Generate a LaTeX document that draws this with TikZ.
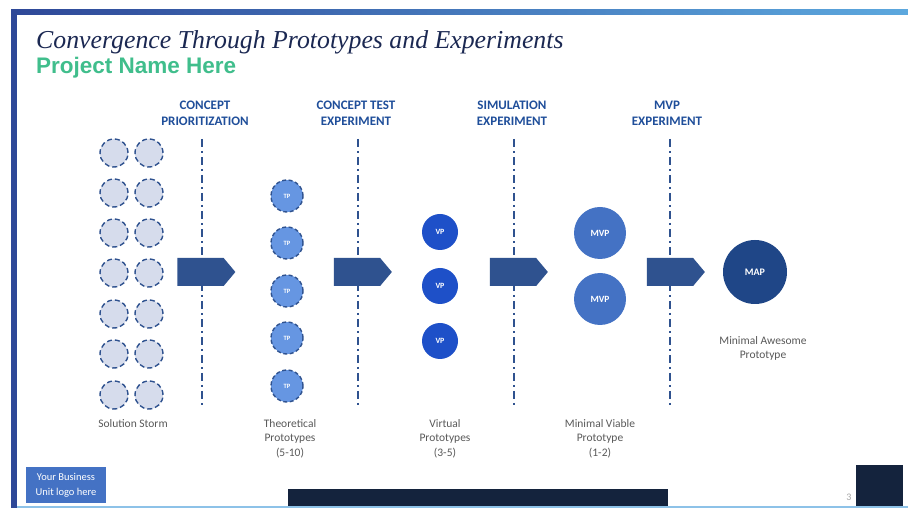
\documentclass[tikz,border=0pt]{standalone}
\usepackage{fontspec}
\setmainfont{Carlito}
\newfontfamily\titlefont{Liberation Serif}
\newfontfamily\namefont{Liberation Sans}
\usetikzlibrary{shapes.symbols}
\definecolor{titlenavy}{RGB}{27,40,82}
\definecolor{namegreen}{RGB}{64,190,140}
\definecolor{headblue}{RGB}{31,78,154}
\definecolor{stageblue}{RGB}{47,82,143}
\definecolor{stormfill}{RGB}{214,220,236}
\definecolor{tpfill}{RGB}{102,150,226}
\definecolor{vpfill}{RGB}{30,80,200}
\definecolor{mvpfill}{RGB}{68,114,196}
\definecolor{mapfill}{RGB}{31,70,135}
\definecolor{capgray}{RGB}{89,89,89}
\definecolor{barleft}{RGB}{46,72,152}
\definecolor{barright}{RGB}{92,168,222}
\definecolor{footdark}{RGB}{20,35,61}
\begin{document}
\begin{tikzpicture}[x=1pt,y=-1pt,
    every node/.append style={inner sep=0pt},
    stormdot/.style={circle,minimum size=28pt,fill=stormfill,draw=stageblue,line width=1.4pt,dash pattern=on 5pt off 3pt},
    tpdot/.style={circle,minimum size=32pt,fill=tpfill,draw=stageblue,line width=1.4pt,dash pattern=on 4pt off 2.5pt,text=white,font=\fontsize{6.5}{6.5}\selectfont\bfseries},
    vpdot/.style={circle,minimum size=36pt,fill=vpfill,text=white,font=\fontsize{8}{8}\selectfont\bfseries},
    mvpdot/.style={circle,minimum size=52pt,fill=mvpfill,text=white,font=\fontsize{9.5}{9.5}\selectfont\bfseries},
    mapdot/.style={circle,minimum size=64pt,fill=mapfill,text=white,font=\fontsize{10}{10}\selectfont\bfseries},
    stagearrow/.style={signal,signal to=east,signal pointer angle=100,fill=stageblue,minimum width=58pt,minimum height=28pt},
    gate/.style={stageblue,line width=2pt,dash pattern=on 8pt off 4pt on 2pt off 4pt},
    stagehead/.style={anchor=north,align=center,text=headblue,font=\fontsize{13}{16}\selectfont\bfseries},
    caption/.style={anchor=north,align=center,text=capgray,font=\fontsize{11.5}{14.5}\selectfont}]
    \useasboundingbox (0,0) rectangle (908,510);
    \fill[white] (0,0) rectangle (908,510);
    \shade[left color=barleft,right color=barright] (11,10) rectangle (908,15);
    \fill[barleft] (11,10) rectangle (16.5,508);
    \fill[barright!70] (16.5,506) rectangle (908,508);
    \node[anchor=base west,text=titlenavy,font=\titlefont\itshape\fontsize{25.8}{25.8}\selectfont] (title) at (36,48.5) {Convergence Through Prototypes and Experiments};
    \node[anchor=base west,text=namegreen,font=\namefont\bfseries\fontsize{22.5}{22.5}\selectfont] (project) at (36,74) {Project Name Here};
    \node[stagehead] (head1) at (205,101) {CONCEPT\\PRIORITIZATION};
    \node[stagehead] (head2) at (356,101) {CONCEPT TEST\\EXPERIMENT};
    \node[stagehead] (head3) at (512,101) {SIMULATION\\EXPERIMENT};
    \node[stagehead] (head4) at (667,101) {MVP\\EXPERIMENT};
    \coordinate (gate1top) at (202,139);
    \coordinate (gate1bot) at (202,405);
    \coordinate (gate2top) at (358,139);
    \coordinate (gate2bot) at (358,405);
    \coordinate (gate3top) at (514,139);
    \coordinate (gate3bot) at (514,405);
    \coordinate (gate4top) at (670,139);
    \coordinate (gate4bot) at (670,405);
    \draw[gate] (gate1top) -- (gate1bot);
    \draw[gate] (gate2top) -- (gate2bot);
    \draw[gate] (gate3top) -- (gate3bot);
    \draw[gate] (gate4top) -- (gate4bot);
    \node[stagearrow] (arrow1) at (200.5,272) {};
    \node[stagearrow] (arrow2) at (357,272) {};
    \node[stagearrow] (arrow3) at (513,272) {};
    \node[stagearrow] (arrow4) at (670,272) {};
    \node[stormdot] (storm1a) at (114,153) {};
    \node[stormdot] (storm1b) at (149,153) {};
    \node[stormdot] (storm2a) at (114,193) {};
    \node[stormdot] (storm2b) at (149,193) {};
    \node[stormdot] (storm3a) at (114,233) {};
    \node[stormdot] (storm3b) at (149,233) {};
    \node[stormdot] (storm4a) at (114,273) {};
    \node[stormdot] (storm4b) at (149,273) {};
    \node[stormdot] (storm5a) at (114,314) {};
    \node[stormdot] (storm5b) at (149,314) {};
    \node[stormdot] (storm6a) at (114,354) {};
    \node[stormdot] (storm6b) at (149,354) {};
    \node[stormdot] (storm7a) at (114,395) {};
    \node[stormdot] (storm7b) at (149,395) {};
    \node[tpdot] (tp1) at (287,196) {TP};
    \node[tpdot] (tp2) at (287,243) {TP};
    \node[tpdot] (tp3) at (287,291) {TP};
    \node[tpdot] (tp4) at (287,338) {TP};
    \node[tpdot] (tp5) at (287,386) {TP};
    \node[vpdot] (vp1) at (440,232) {VP};
    \node[vpdot] (vp2) at (440,286) {VP};
    \node[vpdot] (vp3) at (440,341) {VP};
    \node[mvpdot] (mvp1) at (600,233) {MVP};
    \node[mvpdot] (mvp2) at (600,299) {MVP};
    \node[mapdot] (map) at (755,272) {MAP};
    \node[caption] (stormcap) at (133,419) {Solution Storm};
    \node[caption] (tpcap) at (290,419) {Theoretical\\Prototypes\\(5-10)};
    \node[caption] (vpcap) at (445,419) {Virtual\\Prototypes\\(3-5)};
    \node[caption] (mvpcap) at (600,419) {Minimal Viable\\Prototype\\(1-2)};
    \node[caption] (mapcap) at (763,336) {Minimal Awesome\\Prototype};
    \node[fill=mvpfill,minimum width=80pt,minimum height=35pt,align=center,text=white,font=\fontsize{10.5}{15}\selectfont] (logo) at (66,485) {Your Business\\Unit logo here};
    \node[fill=footdark,minimum width=380pt,minimum height=17pt] (footbar) at (478,497.5) {};
    \node[fill=footdark,minimum width=47pt,minimum height=41pt] (cornerbox) at (879.5,485.5) {};
    \node[text=black!35,font=\fontsize{10}{10}\selectfont] (pagenum) at (849,497) {3};
\end{tikzpicture}
\end{document}
